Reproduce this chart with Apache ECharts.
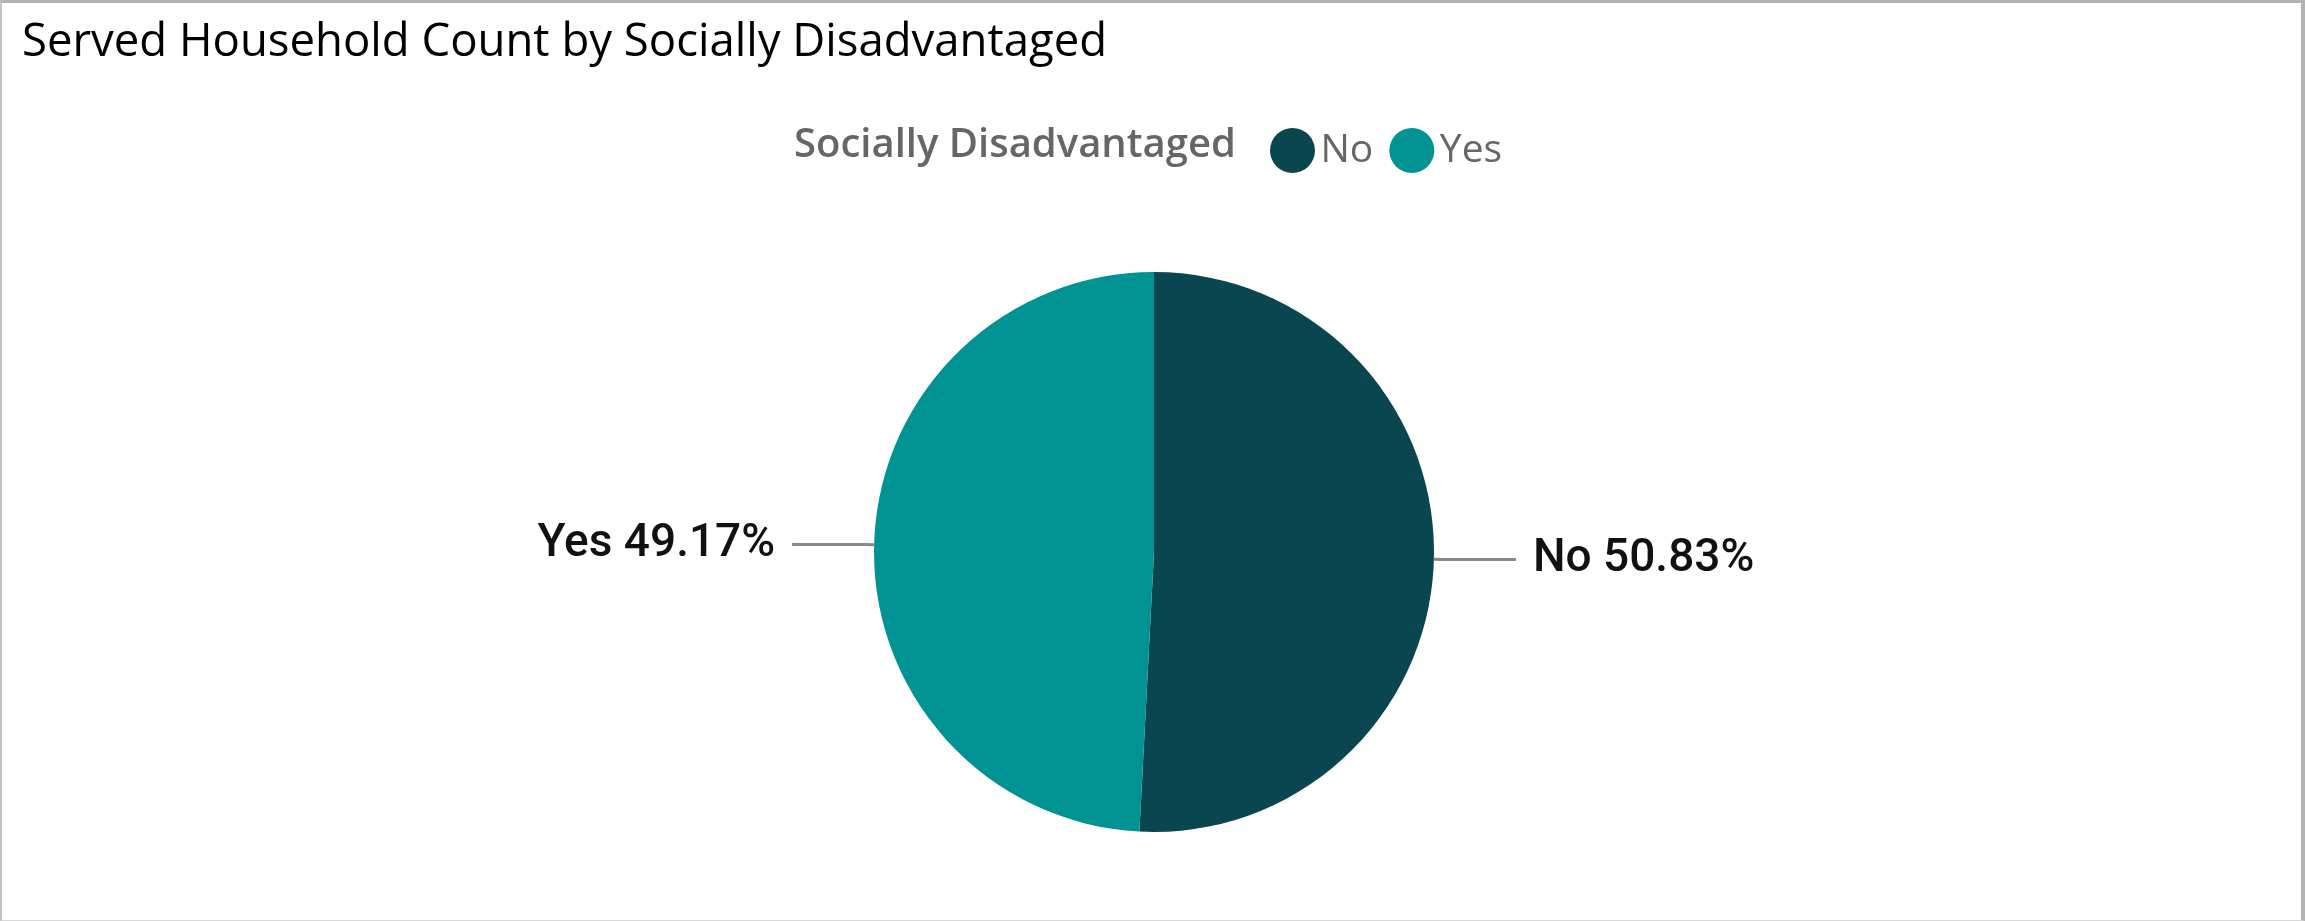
<!DOCTYPE html>
<html>
<head>
<meta charset="utf-8">
<style>
  html, body { margin: 0; padding: 0; background: #ffffff; }
  #chart { position: absolute; left: 0; top: 0; width: 2305px; height: 921px; }
  #frame {
    position: absolute; left: 0; top: 0; width: 2305px; height: 921px;
    box-sizing: border-box; pointer-events: none;
    border-top: 3px solid #b3b3b3;
    border-right: 4px solid #b3b3b3;
    border-left: 2px solid #c4c4c4;
    border-bottom: 1px solid #d9d9d9;
  }
</style>
<script src="https://cdn.jsdelivr.net/npm/echarts@6/dist/echarts.min.js"></script>
</head>
<body>
<div id="chart"></div>
<div id="frame"></div>
<script>
// Share of served households, split by the "Socially Disadvantaged" flag
const categories = ['No', 'Yes'];
const shares = [50.83, 49.17];
const colors = ['#094650', '#019393'];

const chart = echarts.init(document.getElementById('chart'), null, { renderer: 'canvas' });

const option = {
  animation: false,
  title: [
    {
      text: 'Served Household Count by Socially Disadvantaged',
      left: 17,
      top: 15,
      textStyle: { fontFamily: 'Open Sans', fontSize: 45.5, fontWeight: 'normal', color: '#000000' }
    },
    {
      text: 'Socially Disadvantaged',
      left: 789,
      top: 121,
      textStyle: { fontFamily: 'Open Sans', fontSize: 40, fontWeight: 600, color: '#666666' }
    }
  ],
  legend: {
    data: categories,
    left: 1265,
    top: 123,
    icon: 'circle',
    itemWidth: 46,
    itemHeight: 45,
    itemGap: 16,
    textStyle: { fontFamily: 'Open Sans', fontSize: 39, color: '#666666' }
  },
  color: colors,
  series: [
    {
      type: 'pie',
      center: [1154, 552],
      radius: 280,
      startAngle: 90,
      clockwise: true,
      avoidLabelOverlap: false,
      label: {
        show: true,
        position: 'outside',
        formatter: '{b} {c}%',
        fontFamily: 'Roboto',
        fontWeight: 500,
        fontSize: 46,
        color: '#111111',
        distanceToLabelLine: 17
      },
      labelLine: {
        show: true,
        length: 8,
        length2: 74,
        lineStyle: { color: '#888888', width: 3 }
      },
      itemStyle: { borderWidth: 0 },
      emphasis: { disabled: true },
      data: categories.map((name, i) => ({ name: name, value: shares[i] }))
    }
  ]
};

chart.setOption(option);
</script>
</body>
</html>
